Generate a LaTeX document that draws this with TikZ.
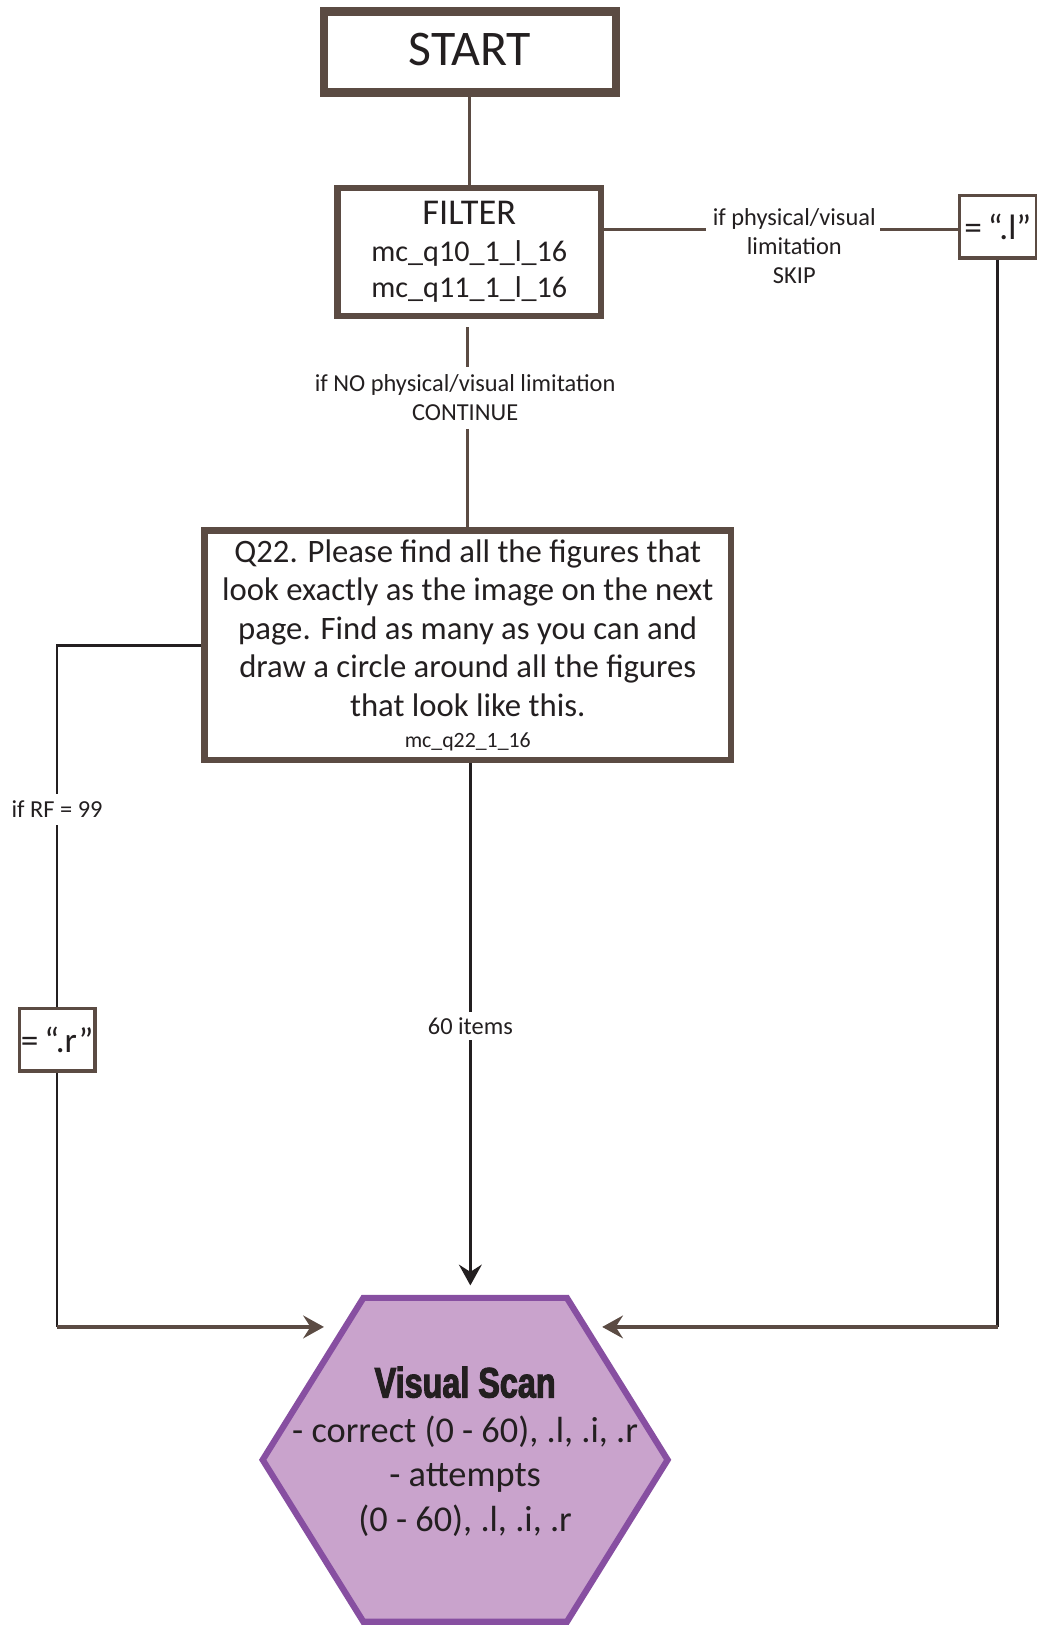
\documentclass[tikz,border=0pt]{standalone}
\usepackage{fontspec}
\setmainfont{Carlito}
\newfontfamily\vsfont{Liberation Sans Bold}[FakeStretch=0.76,FakeBold=2.5]
\usetikzlibrary{arrows.meta}
\definecolor{boxbrown}{HTML}{5B4B43}
\definecolor{ink}{HTML}{231F20}
\definecolor{hexline}{HTML}{874FA1}
\definecolor{hexfill}{HTML}{C9A3CC}
\tikzset{
  thickbox/.style={draw=boxbrown, line width=6pt, fill=white, inner sep=0pt, align=center, text=ink},
  thinbox/.style={draw=boxbrown, line width=3pt, fill=white, inner sep=0pt, align=center, text=ink},
  lbl/.style={inner sep=0pt, align=center, text=ink, font=\fontsize{23.5}{28}\selectfont},
  brownline/.style={draw=boxbrown, line width=3pt},
  inkline/.style={draw=ink, line width=2.6pt},
  tip/.style={-{Stealth[length=20pt,width=22pt,inset=7pt]}},
}
\begin{document}
\begin{tikzpicture}[x=1pt,y=-1pt]
\useasboundingbox (0,0) rectangle (998,1567);

% boxes
\node[thickbox, line width=8pt, minimum width=281pt, minimum height=78pt, font=\fontsize{48}{48}\selectfont] (start) at (452.5,50) {\raisebox{5pt}{START}};
\node[thickbox, minimum width=254pt, minimum height=123pt, font=\fontsize{29}{35}\selectfont] (filter) at (452,242.5)
  {{\fontsize{35}{35}\selectfont FILTER}\\mc\_q10\_1\_l\_16\\mc\_q11\_1\_l\_16};
\node[thickbox, minimum width=507pt, minimum height=221pt, font=\fontsize{31.5}{37}\selectfont] (q22) at (450.5,621.5)
  {Q22. Please find all the figures that\\look exactly as the image on the next\\page. Find as many as you can and\\draw a circle around all the figures\\that look like this.\\[-7pt]{\fontsize{21}{24}\selectfont mc\_q22\_1\_16}};
\node[thinbox, minimum width=74pt, minimum height=60pt, font=\fontsize{34}{34}\selectfont] (lbox) at (961,218.5) {=\,“.l”};
\node[thinbox, minimum width=73pt, minimum height=60pt, font=\fontsize{34}{34}\selectfont] (rbox) at (55,1001.5) {=\,“.r”};

% hexagon
\coordinate (h1) at (350,1250);
\coordinate (h2) at (546,1250);
\coordinate (h3) at (643,1406);
\coordinate (h4) at (546,1562);
\coordinate (h5) at (350,1562);
\coordinate (h6) at (253,1406);
\draw[draw=hexline, fill=hexfill, line width=6pt, line join=miter] (h1) -- (h2) -- (h3) -- (h4) -- (h5) -- (h6) -- cycle;
\node[inner sep=0pt, align=center, text=ink, font=\fontsize{35}{43}\selectfont] (hexlabel) at (448,1398)
  {{\vsfont\fontsize{41}{43}\selectfont Visual Scan}\\- correct (0 - 60), .l, .i, .r\\- attempts\\(0 - 60), .l, .i, .r};

% arrow targets and corners
\coordinate (hexT) at (453,1238);
\coordinate (hexL) at (312,1278);
\coordinate (hexR) at (580,1278);
\coordinate (cornerL) at (55,1278);
\coordinate (cornerR) at (961,1278);

% START -> FILTER
\draw[brownline] (start.south) -- (start.south |- filter.north);

% FILTER -> skip box
\coordinate (c1) at (680,221);
\coordinate (c2) at (848,221);
\node[lbl] (skiplbl) at (765,237) {if physical/visual\\limitation\\SKIP};
\draw[brownline] (filter.east |- c1) -- (c1);
\draw[brownline] (c2) -- (lbox.west |- c2);

% skip box -> hexagon
\draw[inkline] (lbox.south) -- (cornerR);
\draw[brownline, tip] (cornerR) -- (hexR);

% FILTER -> Q22
\coordinate (c3) at (450,353);
\coordinate (c4) at (450,413);
\node[lbl] (contlbl) at (448,383) {if NO physical/visual limitation\\CONTINUE};
\draw[brownline, shorten <=8pt] (filter.south -| c3) -- (c3);
\draw[brownline] (c4) -- (q22.north -| c4);

% Q22 -> hexagon
\coordinate (c5) at (453,975);
\coordinate (c6) at (453,1002);
\node[lbl] (itemslbl) at (453,988) {60 items};
\draw[inkline] (q22.south -| c5) -- (c5);
\draw[inkline, tip] (c6) -- (hexT);

% Q22 -> RF box -> hexagon
\coordinate (c7) at (55,765);
\coordinate (c8) at (55,795);
\node[lbl] (rflbl) at (55,779) {if RF = 99};
\draw[inkline] (q22.west) -| (c7);
\draw[inkline] (c8) -- (rbox.north);
\draw[inkline] (rbox.south) -- (cornerL);
\draw[brownline, tip] (cornerL) -- (hexL);
\end{tikzpicture}
\end{document}
